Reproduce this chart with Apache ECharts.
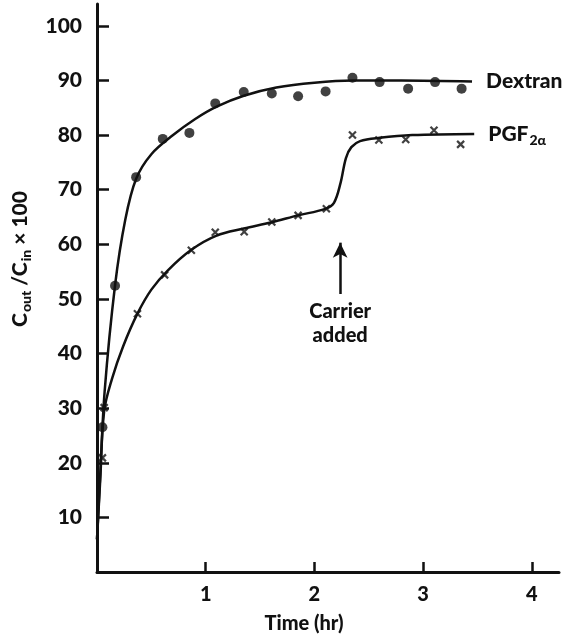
<!DOCTYPE html>
<html>
<head>
<meta charset="utf-8">
<script src="https://cdn.jsdelivr.net/npm/echarts@6/dist/echarts.min.js"></script>
<style>
  html, body { margin: 0; padding: 0; background: #fff; }
  #chart { width: 563px; height: 639px; }
</style>
</head>
<body>
<div id="chart"></div>
<script>
// Measured points (time in hours, Cout/Cin x 100)
const dextranTime  = [0.05, 0.166, 0.36, 0.605, 0.85, 1.088, 1.35, 1.608, 1.85, 2.103, 2.35, 2.6, 2.862, 3.11, 3.354];
const dextranValue = [26.5, 52.4, 72.3, 79.3, 80.4, 85.8, 87.9, 87.6, 87.1, 88.0, 90.5, 89.7, 88.5, 89.7, 88.5];

const pgfTime  = [0.05, 0.066, 0.372, 0.622, 0.868, 1.088, 1.354, 1.608, 1.85, 2.11, 2.35, 2.593, 2.84, 3.10, 3.345];
const pgfValue = [20.9, 30.1, 47.3, 54.4, 58.9, 62.2, 62.3, 64.1, 65.3, 66.5, 80.0, 79.1, 79.2, 80.9, 78.3];

// Hand-fitted curves through each set
const dextranCurveTime  = [0, 0.03, 0.07, 0.166, 0.26, 0.36, 0.5, 0.7, 0.9, 1.1, 1.35, 1.65, 2.0, 2.35, 2.8, 3.45];
const dextranCurveValue = [6, 18, 33, 52.5, 64.5, 72.0, 76.5, 80.0, 82.9, 85.2, 87.2, 88.7, 89.6, 90.0, 90.0, 89.8];

const pgfCurveTime  = [0, 0.03, 0.066, 0.14, 0.24, 0.372, 0.5, 0.65, 0.868, 1.1, 1.35, 1.6, 1.85, 2.1, 2.18, 2.24, 2.29, 2.34, 2.42, 2.6, 2.9, 3.47];
const pgfCurveValue = [6, 17, 29.5, 35.5, 41.3, 47.3, 51.7, 55.2, 59.0, 61.6, 62.9, 64.0, 65.3, 66.5, 67.6, 71.2, 75.8, 77.8, 78.9, 79.5, 80.0, 80.2];

// Arrow marking when carrier was added
const carrierTime = 2.237;
const carrierArrow = [50.9, 60.3];

const xTicks = [1, 2, 3, 4];
const yTicks = [10, 20, 30, 40, 50, 60, 70, 80, 90, 100];

const zip = (xs, ys) => xs.map((x, i) => [x, ys[i]]);

const FONT = 'Lato, "DejaVu Sans", sans-serif';
const INK = '#111';

const chart = echarts.init(document.getElementById('chart'), null, { renderer: 'canvas' });

chart.setOption({
  animation: false,
  backgroundColor: '#fff',
  textStyle: { fontFamily: FONT, color: INK },
  grid: { left: 90, right: 4, top: 4, bottom: 63 },
  xAxis: {
    type: 'value',
    min: 0,
    max: 4.25,
    interval: 1,
    name: 'Time (hr)',
    nameLocation: 'middle',
    nameGap: 42,
    nameTextStyle: { fontFamily: FONT, fontSize: 20, fontWeight: 900, color: INK, padding: [0, 48, 0, 0] },
    axisLine: { show: true, lineStyle: { color: INK, width: 3 } },
    axisTick: { show: true, inside: true, length: 10, customValues: xTicks, lineStyle: { color: INK, width: 2.5 } },
    axisLabel: { customValues: xTicks, fontFamily: FONT, fontSize: 20, fontWeight: 900, color: INK, margin: 13 },
    splitLine: { show: false }
  },
  yAxis: {
    type: 'value',
    min: 0,
    max: 104,
    interval: 10,
    name: '{c|C}{s|out}{c| /C}{s|in}{c| × 100}',
    nameLocation: 'middle',
    nameRotate: 90,
    nameGap: 64,
    nameTextStyle: {
      padding: [0, 0, 0, 58],
      rich: {
        c: { fontFamily: FONT, fontSize: 21, fontWeight: 900, color: INK, lineHeight: 26, verticalAlign: 'middle' },
        s: { fontFamily: FONT, fontSize: 14, fontWeight: 900, color: INK, lineHeight: 26, verticalAlign: 'bottom', padding: [11, 0, 0, 1] }
      }
    },
    axisLine: { show: true, lineStyle: { color: INK, width: 3 } },
    axisTick: { show: true, inside: true, length: 12, customValues: yTicks, lineStyle: { color: INK, width: 2.5 } },
    axisLabel: { customValues: yTicks, fontFamily: FONT, fontSize: 21, fontWeight: 900, color: INK, margin: 15 },
    splitLine: { show: false }
  },
  series: [
    {
      name: 'Dextran curve',
      type: 'line',
      data: zip(dextranCurveTime, dextranCurveValue),
      showSymbol: false,
      smooth: 0.35,
      lineStyle: { color: INK, width: 2.5 },
      endLabel: {
        show: true,
        formatter: 'Dextran',
        distance: 14,
        fontFamily: FONT, fontSize: 21, fontWeight: 900, color: INK
      },
      z: 2
    },
    {
      name: 'PGF curve',
      type: 'line',
      data: zip(pgfCurveTime, pgfCurveValue),
      showSymbol: false,
      smooth: 0.35,
      lineStyle: { color: INK, width: 2.5 },
      endLabel: {
        show: true,
        formatter: '{m|PGF}{s|2α}',
        distance: 14,
        rich: {
          m: { fontFamily: FONT, fontSize: 21, fontWeight: 900, color: INK, lineHeight: 26 },
          s: { fontFamily: FONT, fontSize: 14, fontWeight: 900, color: INK, lineHeight: 26, verticalAlign: 'bottom', padding: [12, 0, 0, 1] }
        }
      },
      markLine: {
        silent: true,
        symbol: ['none', 'arrow'],
        symbolSize: [11, 15],
        lineStyle: { color: INK, width: 2.5, type: 'solid' },
        label: {
          show: true,
          position: 'start',
          distance: 6,
          formatter: 'Carrier\nadded',
          fontFamily: FONT, fontSize: 20, fontWeight: 900, color: INK, lineHeight: 24
        },
        data: [[
          { coord: [carrierTime, carrierArrow[0]] },
          { coord: [carrierTime, carrierArrow[1]] }
        ]]
      },
      z: 2
    },
    {
      name: 'Dextran',
      type: 'scatter',
      data: zip(dextranTime, dextranValue),
      symbol: 'circle',
      symbolSize: 10,
      itemStyle: { color: INK },
      z: 3
    },
    {
      name: 'PGF2α',
      type: 'scatter',
      data: zip(pgfTime, pgfValue),
      symbol: 'path://M0,0L10,10M10,0L0,10',
      symbolSize: 7,
      itemStyle: { color: INK, borderColor: INK, borderWidth: 2.2 },
      z: 3
    }
  ]
});
</script>
</body>
</html>
